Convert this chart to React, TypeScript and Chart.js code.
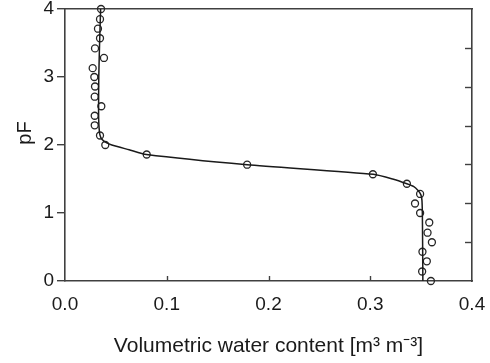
import React, { useEffect, useRef } from 'react';
import { Chart, registerables } from 'chart.js';

Chart.register(...registerables);

// Observed retention points: pF and volumetric water content
const obsPF = [4.0, 3.85, 3.71, 3.57, 3.42, 3.28, 3.13, 3.0, 2.86, 2.71, 2.57, 2.43, 2.29, 2.14, 2.0, 1.86, 1.71, 1.57, 1.43, 1.28, 1.14, 1.0, 0.86, 0.71, 0.57, 0.43, 0.29, 0.14, 0.0];
const obsTheta = [0.0354, 0.0344, 0.0324, 0.0344, 0.0295, 0.0383, 0.0272, 0.0288, 0.0295, 0.0292, 0.0357, 0.0292, 0.0292, 0.0344, 0.0396, 0.0803, 0.179, 0.3026, 0.336, 0.349, 0.344, 0.349, 0.358, 0.3563, 0.3606, 0.3513, 0.3556, 0.351, 0.3596];

// Fitted retention curve
const fitPF = [4.0, 3.5, 3.0, 2.5, 2.3, 2.15, 2.08, 2.03, 2.0, 1.93, 1.86, 1.71, 1.57, 1.5, 1.43, 1.39, 1.33, 1.27, 1.19, 1.0, 0.5, 0.0];
const fitTheta = [0.035, 0.034, 0.0332, 0.033, 0.0333, 0.0343, 0.0365, 0.041, 0.046, 0.063, 0.08, 0.179, 0.303, 0.322, 0.336, 0.3425, 0.347, 0.3497, 0.3508, 0.3512, 0.3515, 0.3517];

const xTicks = [0, 0.1, 0.2, 0.3, 0.4];
const yTicks = [0, 1, 2, 3, 4];
const rightTicks = [0, 1, 2, 3, 4, 5, 6, 7];

const xTitle = 'Volumetric water content [m³ m⁻³]';
const yTitle = 'pF';

const FONT = "'Liberation Sans', Arial, sans-serif";
const INK = '#1a1a1a';
const AXIS = '#404040';

const framePlugin = {
  id: 'framePlugin',
  afterDraw(chart: any) {
    const { ctx, chartArea: a, scales } = chart;
    ctx.save();
    ctx.strokeStyle = AXIS;
    ctx.lineWidth = 1.4;
    const seg = (x1: number, y1: number, x2: number, y2: number) => {
      ctx.beginPath();
      ctx.moveTo(x1, y1);
      ctx.lineTo(x2, y2);
      ctx.stroke();
    };
    const xs = scales.x;
    xTicks.forEach((v) => {
      if (v > xTicks[0] && v < xTicks[xTicks.length - 1]) {
        const px = Math.round(xs.getPixelForValue(v)) + 0.5;
        seg(px, a.bottom, px, a.bottom - 5);
      }
    });
    const ys = scales.y2;
    rightTicks.forEach((v) => {
      if (v > rightTicks[0] && v < rightTicks[rightTicks.length - 1]) {
        const py = Math.round(ys.getPixelForValue(v)) + 0.5;
        seg(a.right, py, a.right - 7, py);
      }
    });
    // y-axis title
    ctx.fillStyle = INK;
    ctx.font = `20px ${FONT}`;
    ctx.textAlign = 'center';
    ctx.textBaseline = 'middle';
    ctx.translate(25, (a.top + a.bottom) / 2 - 12);
    ctx.rotate(-Math.PI / 2);
    ctx.fillText(yTitle, 0, 0);
    ctx.restore();
  },
};

const noPad = (s: any) => {
  s.paddingLeft = 0;
  s.paddingRight = 0;
  s.paddingTop = 0;
  s.paddingBottom = 0;
};

export default function App() {
  const ref = useRef<HTMLCanvasElement | null>(null);

  useEffect(() => {
    if (!ref.current) return;
    const obs = obsPF.map((p, i) => ({ x: obsTheta[i], y: p }));
    const fit = fitPF.map((p, i) => ({ x: fitTheta[i], y: p }));
    const chart = new Chart(ref.current, {
      type: 'scatter',
      data: {
        datasets: [
          {
            label: 'fit',
            data: fit,
            showLine: true,
            borderColor: INK,
            borderWidth: 1.5,
            pointRadius: 0,
            tension: 0.2,
            clip: false as any,
          },
          {
            label: 'observed',
            data: obs,
            showLine: false,
            pointStyle: 'circle',
            pointRadius: 3.5,
            borderColor: '#262626',
            backgroundColor: 'rgba(0,0,0,0)',
            borderWidth: 1.3,
            clip: false as any,
          },
        ],
      },
      options: {
        responsive: false,
        animation: false,
        layout: { padding: 0 },
        plugins: { legend: { display: false }, tooltip: { enabled: false } },
        scales: {
          x: {
            type: 'linear',
            position: 'bottom',
            min: xTicks[0],
            max: xTicks[xTicks.length - 1],
            afterBuildTicks: (s: any) => { s.ticks = xTicks.map((v) => ({ value: v })); },
            afterFit: (s: any) => { s.height = 82; noPad(s); },
            border: { display: true, color: AXIS, width: 1.6 },
            grid: { display: false, drawTicks: false },
            ticks: {
              padding: 12,
              color: INK,
              font: { family: FONT, size: 19 },
              maxRotation: 0,
              callback: (v: any) => Number(v).toFixed(1),
            },
            title: {
              display: true,
              text: xTitle,
              color: INK,
              font: { family: FONT, size: 21 },
              padding: { top: 0, bottom: 4 },
            },
          },
          x2: {
            type: 'linear',
            position: 'top',
            min: xTicks[0],
            max: xTicks[xTicks.length - 1],
            afterFit: (s: any) => { s.height = 9; noPad(s); },
            border: { display: true, color: AXIS, width: 1.6 },
            grid: { display: false, drawTicks: false },
            ticks: { display: false },
          },
          y: {
            type: 'linear',
            position: 'left',
            min: yTicks[0],
            max: yTicks[yTicks.length - 1],
            afterBuildTicks: (s: any) => { s.ticks = yTicks.map((v) => ({ value: v })); },
            afterFit: (s: any) => { s.width = 65; noPad(s); },
            border: { display: true, color: AXIS, width: 1.6 },
            grid: { display: true, drawOnChartArea: false, drawTicks: true, tickLength: 8, color: AXIS, lineWidth: 1.4 },
            ticks: {
              padding: 3,
              color: INK,
              font: { family: FONT, size: 19 },
              callback: (v: any) => String(v),
            },
          },
          y2: {
            type: 'linear',
            position: 'right',
            min: rightTicks[0],
            max: rightTicks[rightTicks.length - 1],
            afterBuildTicks: (s: any) => { s.ticks = rightTicks.map((v) => ({ value: v })); },
            afterFit: (s: any) => { s.width = 18; noPad(s); },
            border: { display: true, color: AXIS, width: 1.6 },
            grid: { display: false, drawTicks: false },
            ticks: { display: false },
          },
        },
      } as any,
      plugins: [framePlugin],
    });
    return () => chart.destroy();
  }, []);

  return (
    <div style={{ position: 'absolute', left: 0, top: 0, width: 490, height: 363, background: '#fff' }}>
      <canvas ref={ref} width={490} height={363} style={{ display: 'block', width: 490, height: 363 }} />
    </div>
  );
}
